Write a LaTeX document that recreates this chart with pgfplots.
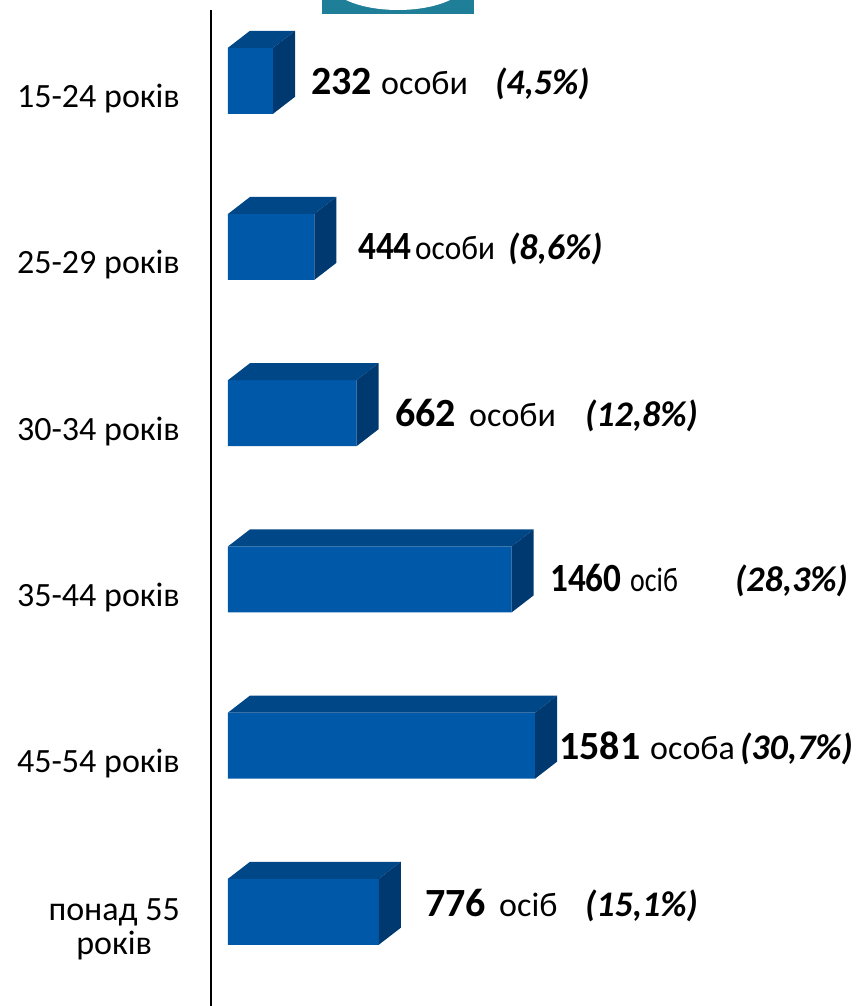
\documentclass[border=0pt]{standalone}
\usepackage{fontspec}
\setmainfont{Carlito}
\usepackage{graphicx}
\usepackage{pgfplots}
\usepackage{pgfplotstable}
\pgfplotsset{compat=1.18}
\definecolor{frontc}{RGB}{0,88,168}
\definecolor{topc}{RGB}{0,71,136}
\definecolor{sidec}{RGB}{0,57,112}
\definecolor{tealc}{RGB}{31,127,153}

\pgfplotstableread{
idx value
0 232
1 444
2 662
3 1460
4 1581
5 776
}\agedata

\pgfdeclareplotmark{nothing}{}

\newcommand{\numf}{\fontsize{40}{40}\selectfont\bfseries}
\newcommand{\wf}{\fontsize{34}{34}\selectfont}
\newcommand{\pf}{\fontsize{36}{36}\selectfont\bfseries\itshape}
\newcommand{\lab}[3]{\node[anchor=base west, inner sep=0pt] at ({#1pt-211pt},{1006pt-#2pt}) {#3};}

\begin{document}
\begin{tikzpicture}
\useasboundingbox (-211pt,0pt) rectangle (649pt,1006pt);
\begin{axis}[
  at={(0pt,0pt)}, anchor=south west,
  scale only axis, width=649pt, height=996pt,
  xmin=-87.5, xmax=3252.7,
  ymin=-0.5337, ymax=5.459, y dir=reverse,
  axis x line=none,
  axis y line*=left,
  y axis line style={line width=2.8pt, black, -},
  ytick={0,1,2,3,4,5},
  yticklabels={15-24 років,25-29 років,30-34 років,35-44 років,45-54 років,{понад 55\\років}},
  major tick length=0pt,
  yticklabel style={font=\fontsize{34}{34}\selectfont, align=center, inner sep=0pt, xshift=-31pt},
  clip=false,
]
\addplot[xbar, bar width=66pt, bar shift=0pt, fill=frontc, draw=none]
  table[x=value, y expr=\thisrow{idx}-0.108] {\agedata};
\addplot[scatter, only marks, mark=nothing,
  visualization depends on={\thisrow{value}*0.19430 \as \barlen},
  scatter/@pre marker code/.code={%
    \pgfscope
    \pgfsetfillcolor{topc}%
    \pgfpathmoveto{\pgfpoint{-\barlen pt}{33pt}}%
    \pgfpathlineto{\pgfpoint{0pt}{33pt}}%
    \pgfpathlineto{\pgfpoint{22pt}{50pt}}%
    \pgfpathlineto{\pgfpoint{22pt-\barlen pt}{50pt}}%
    \pgfpathclose
    \pgfusepath{fill}%
    \pgfsetfillcolor{sidec}%
    \pgfpathmoveto{\pgfpoint{0pt}{-33pt}}%
    \pgfpathlineto{\pgfpoint{0pt}{33pt}}%
    \pgfpathlineto{\pgfpoint{22pt}{50pt}}%
    \pgfpathlineto{\pgfpoint{22pt}{-16pt}}%
    \pgfpathclose
    \pgfusepath{fill}%
  },
  scatter/@post marker code/.code={\endpgfscope}]
  table[x=value, y expr=\thisrow{idx}-0.108] {\agedata};
\end{axis}
% decorative teal shape at top
\begin{scope}
\clip (111pt,992pt) rectangle (263pt,1010pt);
\fill[tealc] (111pt,992pt) rectangle (263pt,1010pt);
\fill[white] (187pt,1026pt) ellipse [x radius=70pt, y radius=30pt];
\end{scope}
% data labels
\lab{311}{95}{\numf 232}
\lab{381}{95}{\wf особи}
\lab{495}{95}{\pf (4,5\%)}
\lab{358}{260}{\scalebox{0.88}[1]{\numf 444}}
\lab{415}{260}{\scalebox{0.92}[1]{\wf особи}}
\lab{508}{260}{\pf (8,6\%)}
\lab{395}{427}{\numf 662}
\lab{469}{427}{\wf особи}
\lab{585}{427}{\pf (12,8\%)}
\lab{550}{592}{\scalebox{0.88}[1]{\numf 1460}}
\lab{630}{592}{\scalebox{0.82}[1]{\wf осіб}}
\lab{735}{592}{\pf (28,3\%)}
\lab{559}{760}{\numf 1581}
\lab{650}{760}{\wf особа}
\lab{740}{760}{\pf (30,7\%)}
\lab{425}{917}{\numf 776}
\lab{499}{917}{\wf осіб}
\lab{585}{917}{\pf (15,1\%)}
\end{tikzpicture}
\end{document}
